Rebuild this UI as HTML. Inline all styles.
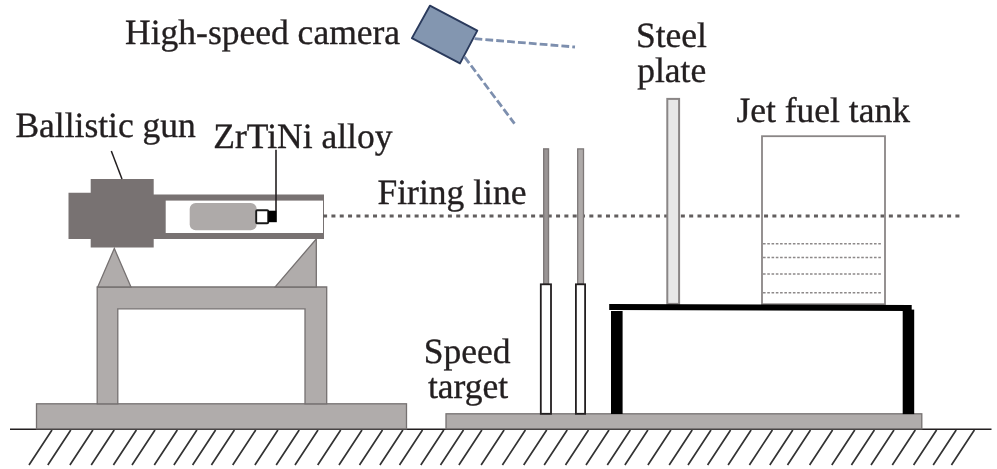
<!DOCTYPE html>
<html><head><meta charset="utf-8"><style>
html,body{margin:0;padding:0;background:#fff;width:997px;height:469px;overflow:hidden}
svg{display:block;will-change:transform}
text{text-rendering:geometricPrecision}
.t{opacity:0.999}
text{font-family:"Liberation Serif",serif;font-size:35.5px;fill:#231f20;stroke:#231f20;stroke-width:0.35px}
</style></head><body>
<svg width="997" height="469" viewBox="0 0 997 469">
<!-- ground -->
<path d="M10 429.3H991.5" stroke="#231f20" stroke-width="1.6" fill="none"/>
<path d="M52.0 430L29.0 465M70.8 430L47.8 465M92.9 430L69.9 465M114.2 430L91.2 465M136.4 430L113.4 465M155.0 430L132.0 465M177.3 430L154.3 465M196.9 430L173.9 465M215.6 430L192.6 465M234.4 430L211.4 465M255.7 430L232.7 465M277.9 430L254.9 465M299.2 430L276.2 465M318.0 430L295.0 465M340.7 430L317.7 465M362.0 430L339.0 465M382.5 430L359.5 465M402.9 430L379.9 465M422.5 430L399.5 465M443.8 430L420.8 465M463.5 430L440.5 465M481.9 430L458.9 465M504.1 430L481.1 465M525.4 430L502.4 465M546.7 430L523.7 465M567.2 430L544.2 465M588.5 430L565.5 465M609.0 430L586.0 465M630.3 430L607.3 465M647.9 430L624.9 465M670.9 430L647.9 465M692.2 430L669.2 465M711.0 430L688.0 465M730.6 430L707.6 465M751.1 430L728.1 465M772.4 430L749.4 465M792.8 430L769.8 465M810.5 430L787.5 465M832.6 430L809.6 465M854.8 430L831.8 465M874.4 430L851.4 465M894.0 430L871.0 465M915.3 430L892.3 465M936.6 430L913.6 465M956.2 430L933.2 465M974.4 430L951.4 465" stroke="#333" stroke-width="1.7" fill="none"/>
<!-- left base -->
<rect x="36.5" y="403.8" width="370" height="25" fill="#b0acab" stroke="#767171" stroke-width="1.3"/>
<!-- right base -->
<rect x="446" y="413.8" width="475.8" height="15" fill="#b0acab" stroke="#767171" stroke-width="1.3"/>
<!-- gun stand -->
<path d="M97.2 403.8V287H326.7V403.8H305V308.8H117.8V403.8Z" fill="#b0acab" stroke="#767171" stroke-width="1.3"/>
<path d="M114.3 248.5L97.7 287H131Z" fill="#b0acab" stroke="#767171" stroke-width="1.3"/>
<path d="M316.3 239L275 287H316.3Z" fill="#b0acab" stroke="#767171" stroke-width="1.3"/>
<!-- gun -->
<path d="M68.5 192.7H90.7V179H153.7V194.5H324V239H153.7V247.4H90.7V239H68.5Z" fill="#787272"/>
<rect x="165.7" y="200.6" width="157.3" height="32.4" fill="#fff"/>
<rect x="189.7" y="203.1" width="67" height="27.1" rx="6" fill="#aeaaa9"/>
<rect x="256.2" y="210.2" width="12" height="13" rx="1" fill="#fff" stroke="#1a1a1a" stroke-width="1.9"/>
<rect x="268.2" y="210.7" width="8.6" height="11.5" fill="#000"/>
<path d="M276 149.7V211" stroke="#231f20" stroke-width="1.6"/>
<path d="M111.3 151L122 179" stroke="#231f20" stroke-width="1.5"/>
<!-- firing line -->
<path d="M323.1 216H960" stroke="#625e5e" stroke-width="2.9" stroke-dasharray="4 4.32" fill="none"/>
<!-- speed target -->
<rect x="543.7" y="148.9" width="4.8" height="135" fill="#9a9595" stroke="#7d7878" stroke-width="1.4"/>
<rect x="577.7" y="148.9" width="5.8" height="135" fill="#aeaaa9" stroke="#7d7878" stroke-width="1.3"/>
<rect x="540.8" y="284.3" width="10.2" height="129.5" fill="#fff" stroke="#231f20" stroke-width="1.8"/>
<rect x="575.9" y="284.3" width="9.2" height="129.5" fill="#fff" stroke="#231f20" stroke-width="1.8"/>
<!-- steel plate -->
<rect x="667.3" y="98.9" width="11.8" height="205" fill="#e8e8e8" stroke="#8a8686" stroke-width="2"/>
<!-- tank -->
<rect x="762" y="136.2" width="123" height="168" fill="none" stroke="#8a8686" stroke-width="1.8"/>
<g stroke="#8d8989" stroke-width="1.5" stroke-dasharray="2.6 1.67">
<path d="M763 243.8H882.5M763 257.4H882.5M763 274H882.5M763 292.7H882.5"/>
</g>
<!-- table -->
<path d="M609.2 304L911.7 305V311L609.2 310.1Z" fill="#000"/>
<rect x="611" y="311" width="11.6" height="103" fill="#000"/>
<rect x="902.7" y="309.6" width="11.5" height="104.5" fill="#000"/>
<!-- camera -->
<path d="M429.9 5.7L477.3 30.6L460 63.4L411.9 38.1Z" fill="#8396b0" stroke="#2a3a5c" stroke-width="1.9" stroke-linejoin="round"/>
<path d="M474.5 38.7L575 47" stroke="#7d8fae" stroke-width="2.8" stroke-dasharray="7.8 3.1"/>
<path d="M464.5 56.8L514.5 123.7" stroke="#7d8fae" stroke-width="2.8" stroke-dasharray="7.8 3.1"/>
<!-- texts -->
<g class="t">
<text x="125.1" y="43.7">High-speed camera</text>
<text x="15.4" y="137.1">Ballistic gun</text>
<text x="213.3" y="148.1">ZrTiNi alloy</text>
<text x="377.5" y="203.5">Firing line</text>
<text x="635.9" y="47">Steel</text>
<text x="637.2" y="81.9">plate</text>
<text x="736.4" y="122.1">Jet fuel tank</text>
<text x="423.8" y="362.7">Speed</text>
<text x="427.9" y="398.2">target</text>
</g>
</svg>
</body></html>
